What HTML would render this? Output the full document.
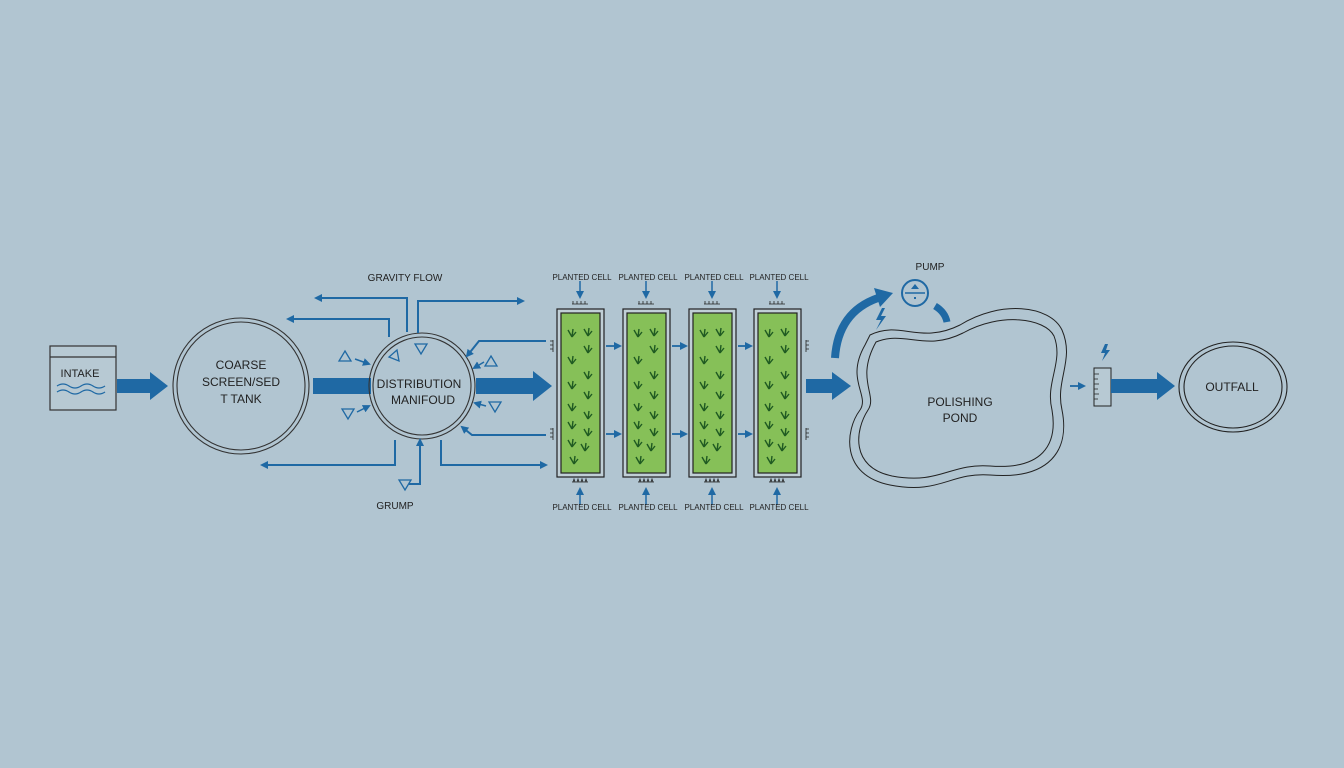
<!DOCTYPE html>
<html><head><meta charset="utf-8"><style>
html,body{margin:0;padding:0;background:#b1c5d1;}
svg{display:block;font-family:"Liberation Sans",sans-serif;}
</style></head><body>
<svg width="1344" height="768" viewBox="0 0 1344 768" xmlns="http://www.w3.org/2000/svg">
<defs>
<marker id="ah" markerWidth="8" markerHeight="8" refX="6" refY="4" orient="auto" markerUnits="userSpaceOnUse"><path d="M0,0 L8,4 L0,8 Z" fill="#1f69a4"/></marker>
<symbol id="pl" viewBox="-6 -6 12 12" overflow="visible"><path d="M0,4 L-4,-3 M0,4 L1,-4 M0,4 L4,-1" stroke="#1f5a22" stroke-width="1.4" fill="none"/></symbol>
<g id="cell">
<rect x="0" y="0" width="47" height="168" fill="#c0cfd6" stroke="#222" stroke-width="1.2"/>
<rect x="4" y="4" width="39" height="160" fill="#86c058" stroke="#222" stroke-width="1.2"/>
<use href="#pl" x="9" y="18" width="12" height="12"/><use href="#pl" x="25" y="17" width="12" height="12"/>
<use href="#pl" x="25" y="34" width="12" height="12"/><use href="#pl" x="9" y="45" width="12" height="12"/>
<use href="#pl" x="25" y="60" width="12" height="12"/><use href="#pl" x="9" y="70" width="12" height="12"/>
<use href="#pl" x="25" y="80" width="12" height="12"/><use href="#pl" x="9" y="92" width="12" height="12"/>
<use href="#pl" x="25" y="100" width="12" height="12"/><use href="#pl" x="9" y="110" width="12" height="12"/>
<use href="#pl" x="25" y="117" width="12" height="12"/><use href="#pl" x="9" y="128" width="12" height="12"/>
<use href="#pl" x="22" y="132" width="12" height="12"/><use href="#pl" x="11" y="145" width="12" height="12"/>
<path d="M23,-28 V-12" stroke="#1f69a4" stroke-width="1.5" marker-end="url(#ah)"/>
<path d="M15,-5 H31 M16,-5 v-3 M20,-5 v-3 M24,-5 v-3 M28,-5 v-3" stroke="#222" stroke-width="0.8"/>
<path d="M23,196 V180" stroke="#1f69a4" stroke-width="1.5" marker-end="url(#ah)"/>
<path d="M15,173 H31 M16,173 l1,-3 1,3 M20,173 l1,-3 1,3 M24,173 l1,-3 1,3 M28,173 l1,-3 1,3" stroke="#222" stroke-width="0.8" fill="none"/>
<text x="25" y="-29" font-size="8" text-anchor="middle" fill="#222">PLANTED CELL</text>
<text x="25" y="201" font-size="8" text-anchor="middle" fill="#222">PLANTED CELL</text>
</g>
</defs>

<!-- Intake -->
<rect x="50" y="346" width="66" height="64" fill="#b7c9d3" stroke="#333" stroke-width="1.2"/>
<line x1="50" y1="357" x2="116" y2="357" stroke="#333" stroke-width="1.2"/>
<text x="80" y="377" font-size="11" text-anchor="middle" fill="#222">INTAKE</text>
<path d="M57,386 q6,-4 12,0 t12,0 t12,0 t12,0 M57,392 q6,-4 12,0 t12,0 t12,0 t12,0" stroke="#1f69a4" stroke-width="1.3" fill="none"/>
<path d="M117,379 H150 V372 L168,386 L150,400 V393 H117 Z" fill="#1f69a4"/>

<!-- Coarse -->
<circle cx="241" cy="386" r="68" fill="none" stroke="#333" stroke-width="1.1"/>
<circle cx="241" cy="386" r="64" fill="none" stroke="#333" stroke-width="1.1"/>
<text font-size="12" text-anchor="middle" fill="#222"><tspan x="241" y="369">COARSE</tspan><tspan x="241" y="386">SCREEN/SED</tspan><tspan x="241" y="403">T TANK</tspan></text>
<rect x="313" y="378" width="58" height="16" fill="#1f69a4"/>

<!-- Distribution -->
<circle cx="422" cy="386" r="53" fill="none" stroke="#333" stroke-width="1.1"/>
<circle cx="422" cy="386" r="49" fill="none" stroke="#333" stroke-width="1.1"/>
<text font-size="12" text-anchor="middle" fill="#222"><tspan x="419" y="388">DISTRIBUTION</tspan><tspan x="423" y="404">MANIFOUD</tspan></text>
<path d="M476,378 H533 V371 L552,386 L533,401 V394 H476 Z" fill="#1f69a4"/>

<g stroke="#1f69a4" stroke-width="2" fill="none">
<path d="M407,332 V298 H316" marker-end="url(#ah)"/>
<path d="M418,333 V301 H523" marker-end="url(#ah)"/>
<path d="M389,337 V319 H288" marker-end="url(#ah)"/>
<path d="M395,440 V465 H262" marker-end="url(#ah)"/>
<path d="M409,484 H420 V440" marker-end="url(#ah)"/>
<path d="M441,440 V465 H546" marker-end="url(#ah)"/>
<path d="M546,341 H479 L467,356" marker-end="url(#ah)"/>
<path d="M546,435 H472 L462,427" marker-end="url(#ah)"/>
<path d="M355,359 L369,364" stroke-width="1.5" marker-end="url(#ah)"/>
<path d="M357,412 L369,406" stroke-width="1.5" marker-end="url(#ah)"/>
<path d="M484,362 L474,368" stroke-width="1.5" marker-end="url(#ah)"/>
<path d="M486,406 L475,403" stroke-width="1.5" marker-end="url(#ah)"/>
</g>
<g stroke="#1f69a4" stroke-width="1.3" fill="none">
<path d="M345,351 L351,361 H339 Z"/><path d="M397,350 L389,357 L399,361 Z"/>
<path d="M415,344 H427 L421,354 Z"/><path d="M491,356 L497,366 H485 Z"/>
<path d="M342,409 H354 L348,419 Z"/><path d="M489,402 H501 L495,412 Z"/>
<path d="M399,480 H411 L405,490 Z"/>
</g>
<text x="405" y="281" font-size="10" text-anchor="middle" fill="#222">GRAVITY FLOW</text>
<text x="395" y="509" font-size="10" text-anchor="middle" fill="#222">GRUMP</text>

<!-- Cells -->
<use href="#cell" x="557" y="309"/>
<use href="#cell" x="623" y="309"/>
<use href="#cell" x="689" y="309"/>
<use href="#cell" x="754" y="309"/>
<g stroke="#1f69a4" stroke-width="1.8" fill="none">
<path d="M606,346 H620" marker-end="url(#ah)"/><path d="M672,346 H686" marker-end="url(#ah)"/><path d="M738,346 H751" marker-end="url(#ah)"/>
<path d="M606,434 H620" marker-end="url(#ah)"/><path d="M672,434 H686" marker-end="url(#ah)"/><path d="M738,434 H751" marker-end="url(#ah)"/>
</g>
<g stroke="#222" stroke-width="0.8" fill="none">
<path d="M553,340 V352 M553,341 h-3 M553,345 h-3 M553,349 h-3"/>
<path d="M553,428 V440 M553,429 h-3 M553,433 h-3 M553,437 h-3"/>
<path d="M806,340 V352 M806,341 h3 M806,345 h3 M806,349 h3"/>
<path d="M806,428 V440 M806,429 h3 M806,433 h3 M806,437 h3"/>
</g>
<path d="M806,379 H832 V372 L851,386 L832,400 V393 H806 Z" fill="#1f69a4"/>

<!-- Pump -->
<path d="M835,358 Q838,312 878,298" stroke="#1f69a4" stroke-width="8" fill="none"/>
<path d="M874,288 L893,293 L880,307 Z" fill="#1f69a4"/>
<path d="M935,306 Q945,312 947,322" stroke="#1f69a4" stroke-width="7" fill="none"/>
<circle cx="915" cy="293" r="13" fill="none" stroke="#1f69a4" stroke-width="2"/>
<line x1="905" y1="293" x2="925" y2="293" stroke="#1f69a4" stroke-width="1.5"/>
<path d="M911,289 L915,284 L919,289 Z" fill="#1f69a4"/><rect x="914" y="297" width="2" height="2" fill="#1f69a4"/>
<text x="930" y="270" font-size="10" text-anchor="middle" fill="#222">PUMP</text>
<path d="M882,308 L876,320 H881 L876,330 L886,316 H881 L885,308 Z" fill="#1f69a4"/>

<!-- Pond -->
<path d="M870,335 C900,320 920,345 960,325 C1000,300 1050,305 1062,330 C1075,360 1055,380 1062,410 C1070,450 1050,480 990,475 C950,472 940,495 890,485 C840,475 845,430 860,410 C870,395 845,380 865,345 Z" fill="none" stroke="#222" stroke-width="1"/>
<path d="M876,342 C905,330 925,352 963,333 C1000,312 1045,318 1054,336 C1064,362 1045,382 1052,410 C1058,445 1042,470 990,466 C950,463 940,485 892,476 C850,467 855,430 868,410 C878,395 855,380 876,342 Z" fill="none" stroke="#222" stroke-width="1"/>
<text font-size="12" text-anchor="middle" fill="#222"><tspan x="960" y="406">POLISHING</tspan><tspan x="960" y="422">POND</tspan></text>

<!-- Gauge and outfall -->
<path d="M1070,386 H1084" stroke="#1f69a4" stroke-width="1.8" marker-end="url(#ah)"/>
<rect x="1094" y="368" width="17" height="38" fill="#b7c9d3" stroke="#222" stroke-width="1"/>
<path d="M1094,374 h5 M1094,379 h4 M1094,384 h5 M1094,389 h4 M1094,394 h5 M1094,399 h4" stroke="#222" stroke-width="0.8"/>
<path d="M1105,344 L1101,353 H1105 L1102,361 L1110,350 H1106 L1108,344 Z" fill="#1f69a4"/>
<path d="M1111,379 H1157 V372 L1175,386 L1157,400 V393 H1111 Z" fill="#1f69a4"/>
<ellipse cx="1233" cy="387" rx="54" ry="45" fill="none" stroke="#222" stroke-width="1.1"/>
<ellipse cx="1233" cy="387" rx="49" ry="41" fill="none" stroke="#222" stroke-width="1.1"/>
<text x="1232" y="391" font-size="12" text-anchor="middle" fill="#222">OUTFALL</text>
</svg>
</body></html>
